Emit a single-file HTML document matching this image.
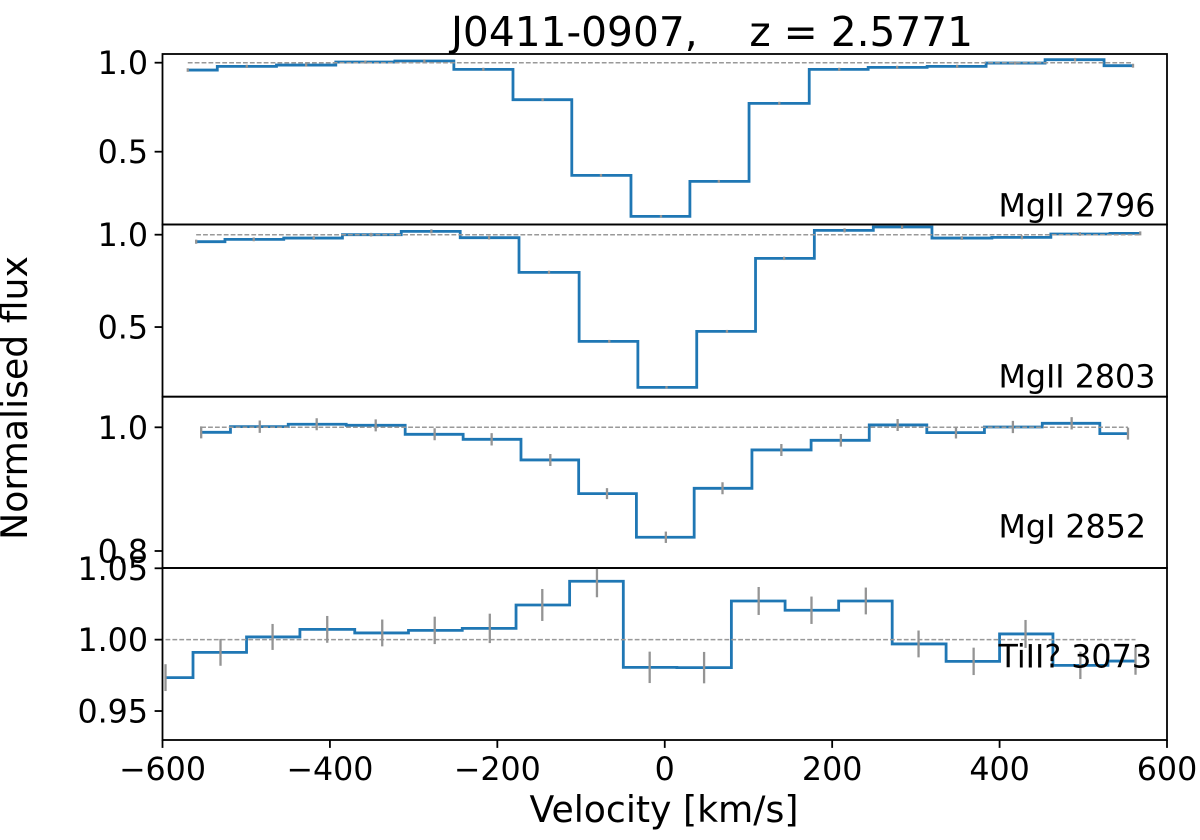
<!DOCTYPE html>
<html lang="en">
<head>
<meta charset="utf-8">
<title>J0411-0907 absorption profiles</title>
<style>
html,body{margin:0;padding:0;background:#fff;}
svg{display:block;}
text{font-family:"DejaVu Sans","Liberation Sans",sans-serif;fill:#000;white-space:pre;}
</style>
</head>
<body>
<svg id="chart" xmlns="http://www.w3.org/2000/svg" width="1200" height="840" viewBox="0 0 1200 840">
  <rect x="0" y="0" width="1200" height="840" fill="#fff"/>
  <text x="712" y="46" font-size="40.7" text-anchor="middle" xml:space="preserve">J0411-0907,    z = 2.5771</text>
  <text x="0" y="0" font-size="36.2" text-anchor="middle" transform="translate(27,398) rotate(-90)">Normalised flux</text>
  <text x="664" y="822" font-size="36.2" text-anchor="middle">Velocity [km/s]</text>
</svg>
<script>
const velocityMg2796 = [-569.8,-499.3,-428.4,-357.6,-287.2,-216.7,-145.9,-76.2,-4.5,64.6,136.8,208.4,277.6,349.3,418.5,490.2,559.4];
const fluxMg2796 = [0.9588,0.9794,0.9869,1.0037,1.0094,0.9625,0.7921,0.3670,0.1367,0.3333,0.7715,0.9625,0.9738,0.9794,0.9981,1.0169,0.9831];
const errorMg2796 = [0.010,0.009,0.009,0.009,0.009,0.009,0.008,0.008,0.007,0.008,0.009,0.009,0.009,0.009,0.009,0.010,0.011];

const velocityMg2803 = [-559.8,-491,-419.3,-350.8,-278.8,-209.9,-138.3,-66.3,2.1,74.3,142.6,214.8,283.5,354.9,426.7,495.8,568];
const fluxMg2803 = [0.9621,0.9747,0.9819,1.0,1.0181,0.9838,0.7960,0.4224,0.1733,0.4765,0.8718,1.0235,1.0415,0.9819,0.9856,1.0036,1.0072];
const errorMg2803 = [0.011,0.010,0.010,0.010,0.011,0.010,0.009,0.008,0.007,0.008,0.009,0.011,0.011,0.010,0.010,0.010,0.011];

const velocityMgI2852 = [-553.8,-483.8,-415.8,-345.3,-274.9,-206.8,-136.7,-69,1.3,69,139.3,210.4,278.2,347.9,415.9,486.1,553.4];
const fluxMgI2852 = [0.9919,1.0011,1.0049,1.0032,0.9887,0.9806,0.9472,0.8928,0.8222,0.9014,0.9634,0.9790,1.0038,0.9914,1.0005,1.0065,0.9898];
const errorMgI2852 = [0.0097,0.0100,0.0097,0.0097,0.0097,0.0100,0.0097,0.0089,0.0092,0.0097,0.0097,0.0102,0.0097,0.0094,0.0100,0.0100,0.0097];

const velocityTi3073 = [-596.4,-530.7,-468.5,-403.2,-337.5,-274.8,-209,-146.3,-81,-18,47,112.2,175.3,240.2,303.2,369,431,496.5,562.4];
const fluxTi3073 = [0.9734,0.9911,1.0019,1.0072,1.0047,1.0065,1.0079,1.0243,1.0409,0.9806,0.9804,1.0271,1.0206,1.0271,0.9970,0.9848,1.0040,0.9820,0.9850];
const errorTi3073 = [0.0094,0.0094,0.0091,0.0094,0.0094,0.0096,0.0103,0.0112,0.0112,0.0110,0.0110,0.0098,0.0096,0.0094,0.0094,0.0096,0.0098,0.0096,0.0096];

const xTickValues = [-600,-400,-200,0,200,400,600];
const xTickLabels = ["\u2212600","\u2212400","\u2212200","0","200","400","600"];
const yTicksMg2796 = [1.0,0.5];
const yLabelsMg2796 = ["1.0","0.5"];
const yTicksMg2803 = [1.0,0.5];
const yLabelsMg2803 = ["1.0","0.5"];
const yTicksMgI2852 = [1.0,0.8];
const yLabelsMgI2852 = ["1.0","0.8"];
const yTicksTi3073 = [1.05,1.00,0.95];
const yLabelsTi3073 = ["1.05","1.00","0.95"];

const svgNS = "http://www.w3.org/2000/svg";
const svg = document.getElementById("chart");
const plotLeft = 162.5, plotRight = 1167;
const xMin = -600, xMax = 600;
const xScale = v => plotLeft + (v - xMin) / (xMax - xMin) * (plotRight - plotLeft);

function make(tag, attrs, parent) {
  const el = document.createElementNS(svgNS, tag);
  for (const k in attrs) el.setAttribute(k, attrs[k]);
  (parent || svg).appendChild(el);
  return el;
}

const defs = make("defs", {});

function drawPanel(p) {
  const yScale = f => p.top + (p.dMax - f) / (p.dMax - p.dMin) * (p.bottom - p.top);
  const group = make("g", {});
  
  

  const clip = make("clipPath", {id: "clip-" + p.key}, defs);
  make("rect", {x: plotLeft, y: p.top, width: plotRight - plotLeft, height: p.bottom - p.top}, clip);

  const marks = make("g", {"clip-path": "url(#clip-" + p.key + ")"}, group);

  // steps-mid flux line
  let d = "M" + xScale(p.vel[0]).toFixed(2) + " " + yScale(p.flux[0]).toFixed(2);
  for (let i = 1; i < p.vel.length; i++) {
    const mid = xScale((p.vel[i - 1] + p.vel[i]) / 2).toFixed(2);
    d += "H" + mid + "V" + yScale(p.flux[i]).toFixed(2);
  }
  d += "H" + xScale(p.vel[p.vel.length - 1]).toFixed(2);
  const line = make("path", {d: d, fill: "none", stroke: "#1f77b4", "stroke-width": 2.8, "stroke-linejoin": "miter"}, marks);
  
  

  // continuum
  const cont = make("line", {
    x1: xScale(p.vel[0]), x2: xScale(p.vel[p.vel.length - 1]),
    y1: yScale(1), y2: yScale(1),
    stroke: "#999", "stroke-width": 1.5, "stroke-dasharray": "4.8 2.1"
  }, marks);
  
  

  // error bars
  p.vel.forEach((v, i) => {
    const bar = make("line", {
      x1: xScale(v), x2: xScale(v),
      y1: yScale(p.flux[i] + p.err[i]), y2: yScale(p.flux[i] - p.err[i]),
      stroke: "#949494", "stroke-width": 2.3
    }, marks);
    
    
  });

  // y ticks
  p.ticks.forEach((t, i) => {
    const y = yScale(t);
    const tick = make("line", {x1: plotLeft - 7.9, x2: plotLeft, y1: y, y2: y, stroke: "#000", "stroke-width": 1.8}, group);
    
    
    const label = make("text", {x: plotLeft - 14.5, y: y + 11.5, "font-size": 31.7, "text-anchor": "end"}, group);
    label.textContent = p.labels[i];
    
    
  });

  // frame
  const frame = make("rect", {
    x: plotLeft, y: p.top, width: plotRight - plotLeft, height: p.bottom - p.top,
    fill: "none", stroke: "#000", "stroke-width": 1.8
  }, group);
  
  

  // species label
  const name = make("text", {x: 998.5, y: p.labelY, "font-size": 31.7}, group);
  name.textContent = p.name;
  
  
}

drawPanel({key: "mgii-2796", name: "MgII 2796", top: 54, bottom: 224.5, dMin: 0.0910, dMax: 1.0489, labelY: 216.7,
  vel: velocityMg2796, flux: fluxMg2796, err: errorMg2796, ticks: yTicksMg2796, labels: yLabelsMg2796});
drawPanel({key: "mgii-2803", name: "MgII 2803", top: 224.5, bottom: 396.7, dMin: 0.1229, dMax: 1.0552, labelY: 387.7,
  vel: velocityMg2803, flux: fluxMg2803, err: errorMg2803, ticks: yTicksMg2803, labels: yLabelsMg2803});
drawPanel({key: "mgi-2852", name: "MgI 2852", top: 396.7, bottom: 568, dMin: 0.7725, dMax: 1.0495, labelY: 537.7,
  vel: velocityMgI2852, flux: fluxMgI2852, err: errorMgI2852, ticks: yTicksMgI2852, labels: yLabelsMgI2852});
drawPanel({key: "tiii-3073", name: "TiII? 3073", top: 568, bottom: 740, dMin: 0.9297, dMax: 1.0502, labelY: 667.7,
  vel: velocityTi3073, flux: fluxTi3073, err: errorTi3073, ticks: yTicksTi3073, labels: yLabelsTi3073});

// shared x axis
xTickValues.forEach((v, i) => {
  const x = xScale(v);
  const tick = make("line", {x1: x, x2: x, y1: 740, y2: 747.9, stroke: "#000", "stroke-width": 1.8});
  
  
  const label = make("text", {x: x, y: 780, "font-size": 31.7, "text-anchor": "middle"});
  label.textContent = xTickLabels[i];
  
  
});
</script>
</body>
</html>
